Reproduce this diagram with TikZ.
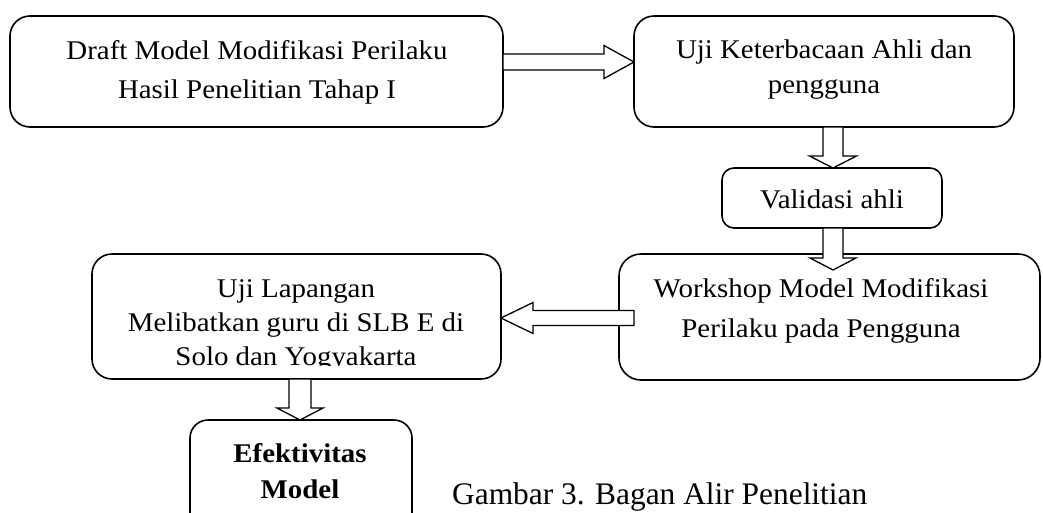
\documentclass[tikz,border=0pt]{standalone}
\usepackage{fontspec}
\setmainfont{Liberation Serif}[FakeStretch=1.07]
\newfontfamily\capfont{Liberation Serif}
\usetikzlibrary{calc}
\tikzset{
  box/.style={draw, line width=1.6pt, rounded corners=#1, inner sep=0pt, outer sep=0pt},
  txt/.style={anchor=base, inner sep=0pt, font=\fontsize{27}{30}\selectfont},
  blk/.style={draw, fill=white, line width=1.3pt, line join=miter},
  rblk/.style n args={3}{blk, to path={let \p1=(\tikztostart), \p2=(\tikztotarget) in
    (\x1,{\y1+#1pt}) -- ({\x2-#3pt},{\y1+#1pt}) -- ({\x2-#3pt},{\y1+#2pt}) -- (\x2,\y1)
    -- ({\x2-#3pt},{\y1-#2pt}) -- ({\x2-#3pt},{\y1-#1pt}) -- (\x1,{\y1-#1pt}) -- cycle}},
  lblk/.style n args={3}{blk, to path={let \p1=(\tikztostart), \p2=(\tikztotarget) in
    (\x1,{\y1+#1pt}) -- ({\x2+#3pt},{\y1+#1pt}) -- ({\x2+#3pt},{\y1+#2pt}) -- (\x2,\y1)
    -- ({\x2+#3pt},{\y1-#2pt}) -- ({\x2+#3pt},{\y1-#1pt}) -- (\x1,{\y1-#1pt}) -- cycle}},
  dblk/.style n args={3}{blk, to path={let \p1=(\tikztostart), \p2=(\tikztotarget) in
    ({\x1-#1pt},\y1) -- ({\x1-#1pt},{\y2+#3pt}) -- ({\x1-#2pt},{\y2+#3pt}) -- (\x1,\y2)
    -- ({\x1+#2pt},{\y2+#3pt}) -- ({\x1+#1pt},{\y2+#3pt}) -- ({\x1+#1pt},\y1) -- cycle}},
}
\begin{document}
\begin{tikzpicture}[x=1pt,y=-1pt]
\useasboundingbox (0,0) rectangle (1043,512);
\clip (0,0) rectangle (1043,512);
% boxes
\node[box=20pt, minimum width=493pt, minimum height=111pt] (b1) at (256.5,71.5) {};
\node[box=20pt, minimum width=380pt, minimum height=111pt] (b2) at (824,71.5) {};
\node[box=12pt, minimum width=220pt, minimum height=60pt] (bv) at (832,198) {};
\node[box=22pt, minimum width=421pt, minimum height=126pt] (bw) at (829.5,317) {};
\node[box=20pt, minimum width=409pt, minimum height=125pt] (bu) at (296.5,316.5) {};
\node[box=18pt, minimum width=222pt, minimum height=120pt] (be) at (301,480) {};
% texts
\node[txt] (t1a) at (257,59) {Draft Model Modifikasi Perilaku};
\node[txt] (t1b) at (257,98) {Hasil Penelitian Tahap I};
\node[txt] (t2a) at (824,58) {Uji Keterbacaan Ahli dan};
\node[txt] (t2b) at (824,93) {pengguna};
\node[txt] (tv) at (832,208) {Validasi ahli};
\node[txt] (twa) at (821,297) {Workshop Model Modifikasi};
\node[txt] (twb) at (821,337) {Perilaku pada Pengguna};
\node[txt] (tua) at (296,297) {Uji Lapangan};
\node[txt] (tub) at (296,331) {Melibatkan guru di SLB E di};
\begin{scope}
  \clip (92,254) rectangle (501,365.5);
  \node[txt] (tuc) at (296,365) {Solo dan Yogyakarta};
\end{scope}
\node[txt, font=\fontsize{27}{30}\selectfont\bfseries] (tea) at (300,462) {Efektivitas};
\node[txt, font=\fontsize{27}{30}\selectfont\bfseries] (teb) at (300,498) {Model};
\node[anchor=base west, inner sep=0pt, font=\capfont\fontsize{31.4}{34}\selectfont] (cap) at (452,504) {Gambar 3. Bagan Alir Penelitian};
% block arrows
\path[rblk={8}{16.5}{30}] ($(b1.east)+(0,-9.5)$) to ($(b2.west)+(0,-9.5)$);
\path[dblk={10}{23.5}{12}] ($(b2.south)+(9,0)$) to ($(bv.north)+(1,0)$);
\path[dblk={10}{23}{12}] ($(bv.south)+(1,0)$) to ($(bw.north)+(0,16)$);
\path[lblk={7.5}{15.5}{32}] ($(bw.west)+(15,1)$) to ($(bu.east)+(0,1)$);
\path[dblk={11}{23}{12}] ($(bu.south)+(3.5,0)$) to (be.north);
\end{tikzpicture}
\end{document}
